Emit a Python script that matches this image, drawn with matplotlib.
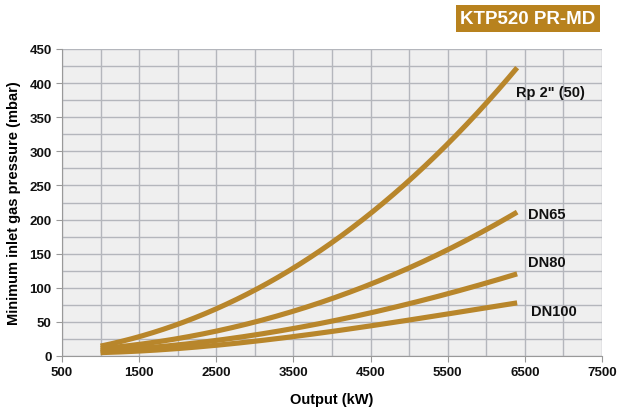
import matplotlib
matplotlib.use("Agg")
import matplotlib.pyplot as plt
import numpy as np

plt.rcParams['font.family'] = ['Liberation Sans', 'DejaVu Sans']

x_rp2 = [1000, 1500, 2000, 2500, 3000, 3500, 4000, 4500, 5000, 5500, 6000, 6400]
y_rp2 = [14, 29, 47, 69, 96, 128, 167, 210, 257, 311, 370, 423]
x_dn65 = [1000, 1500, 2000, 2500, 3000, 3500, 4000, 4500, 5000, 5500, 6000, 6400]
y_dn65 = [10, 18, 26, 37, 49, 65, 84, 106, 128, 157, 186, 210]
x_dn80 = [1000, 1500, 2000, 2500, 3000, 3500, 4000, 4500, 5000, 5500, 6000, 6400]
y_dn80 = [7, 12, 17, 23, 30, 40, 51, 63, 77, 92, 107, 120]
x_dn100 = [1000, 1500, 2000, 2500, 3000, 3500, 4000, 4500, 5000, 5500, 6000, 6400]
y_dn100 = [4, 8, 12, 16, 21, 28, 35, 44, 53, 63, 71, 77]
series_labels = ['Rp 2" (50)', 'DN65', 'DN80', 'DN100']
x_ticks = [500, 1500, 2500, 3500, 4500, 5500, 6500, 7500]
y_ticks = [0, 50, 100, 150, 200, 250, 300, 350, 400, 450]

gold = '#B8862B'
fig = plt.figure(figsize=(6.17, 4.10), dpi=100)
ax = fig.add_axes([62/617, 1-357/410, 540/617, 307/410])
ax.set_facecolor('#EFEFEF')
ax.set_xlim(500, 7500)
ax.set_ylim(0, 450)
for v in np.arange(500, 7501, 500):
    ax.axvline(v, color='#B4B6BC', lw=1.0, zorder=1)
for v in np.arange(0, 451, 25):
    ax.axhline(v, color='#B4B6BC', lw=1.0, zorder=1)

for xs, ys in [(x_rp2, y_rp2), (x_dn65, y_dn65), (x_dn80, y_dn80), (x_dn100, y_dn100)]:
    xs = np.asarray(xs, float)
    ys = np.asarray(ys, float)
    coef = np.polyfit(xs, ys, 3)
    xd = np.linspace(xs[0], xs[-1], 200)
    ax.plot(xd, np.polyval(coef, xd), color=gold, lw=3.7, solid_capstyle='butt', zorder=3)

label_pos = [(6390, 387), (6545, 208), (6545, 138), (6580, 66)]
for (lx, ly), lab in zip(label_pos, series_labels):
    ax.text(lx, ly, lab, fontsize=10.5, fontweight='bold', color='#111111', ha='left', va='center')

ax.set_xticks(x_ticks)
ax.set_yticks(y_ticks)
ax.tick_params(axis='both', labelsize=9.5, colors='#111111', length=4, color='#999999')
for t in ax.get_xticklabels() + ax.get_yticklabels():
    t.set_fontweight('bold')
for s in ['top', 'right']:
    ax.spines[s].set_visible(False)
for s in ['left', 'bottom']:
    ax.spines[s].set_color('#999999')
ax.set_xlabel('Output (kW)', fontsize=10.5, fontweight='bold', labelpad=10)
ax.set_ylabel('Minimum inlet gas pressure (mbar)', fontsize=10.5, fontweight='bold', labelpad=6)

fig.text(528/617, 1-19.5/410, 'KTP520 PR-MD', fontsize=13.5, fontweight='bold', color='white',
         ha='center', va='center',
         bbox=dict(boxstyle='square,pad=0.25', facecolor='#B8821E', edgecolor='none'))

fig.savefig('out.png', dpi=100)
